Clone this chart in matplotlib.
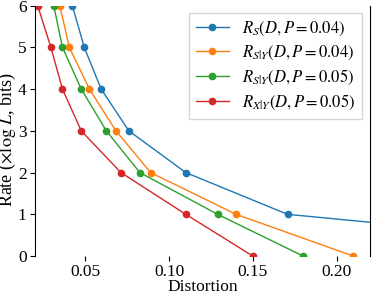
import matplotlib
matplotlib.use("Agg")
import matplotlib.pyplot as plt

plt.rcParams['font.family'] = ['Liberation Serif', 'DejaVu Serif']
plt.rcParams['mathtext.fontset'] = 'stix'

rates = [6, 5, 4, 3, 2, 1, 0]

# distortion values
dS_04 = [0.0423, 0.0494, 0.0595, 0.076, 0.110, 0.1707, 0.30]
rS_04 = [6, 5, 4, 3, 2, 1, 0.5]
dSY_04 = [0.0348, 0.0405, 0.0525, 0.0683, 0.089, 0.140, 0.210]
dSY_05 = [0.0312, 0.0364, 0.0476, 0.0626, 0.0826, 0.129, 0.180]
dXY_05 = [0.0216, 0.0295, 0.0364, 0.0476, 0.0713, 0.110, 0.150]

labels = [r'$R_S(D, P=0.04)$', r'$R_{S|Y}(D, P=0.04)$',
          r'$R_{S|Y}(D, P=0.05)$', r'$R_{X|Y}(D, P=0.05)$']
colors = ['#1f77b4', '#ff7f0e', '#2ca02c', '#d62728']

fig = plt.figure(figsize=(3.72, 2.94), dpi=100)
ax = fig.add_axes([0.094, 0.129, 0.901, 0.852])

series = [(dS_04, rS_04), (dSY_04, rates), (dSY_05, rates), (dXY_05, rates)]
for (d, r), lab, c in zip(series, labels, colors):
    ax.plot(d, r, marker='o', markersize=4.5, linewidth=1, color=c, label=lab)

ax.set_xlim(0.02, 0.22)
ax.set_ylim(0, 6)
ax.set_xticks([0.05, 0.10, 0.15, 0.20])
ax.set_xticklabels(['0.05', '0.10', '0.15', '0.20'])
ax.set_yticks(range(7))
ax.tick_params(labelsize=12.5)
ax.tick_params(axis='x', pad=2.5)
ax.tick_params(axis='y', pad=2.5)
ax.spines['top'].set_visible(False)
ax.spines['bottom'].set_visible(False)
ax.set_xlabel('Distortion', fontsize=12.5)
ax.xaxis.set_label_coords(0.5, -0.09)
ax.set_ylabel(r'Rate ($\times\log\, L$, bits)', fontsize=13)
ax.yaxis.set_label_coords(-0.05, 0.465)
ax.legend(loc='upper right', fontsize=12, fancybox=False, handlelength=2.0,
          handletextpad=0.8, borderpad=0.4, labelspacing=0.35,
          borderaxespad=0, bbox_to_anchor=(0.977, 0.97))

fig.savefig('out.png', dpi=100)
